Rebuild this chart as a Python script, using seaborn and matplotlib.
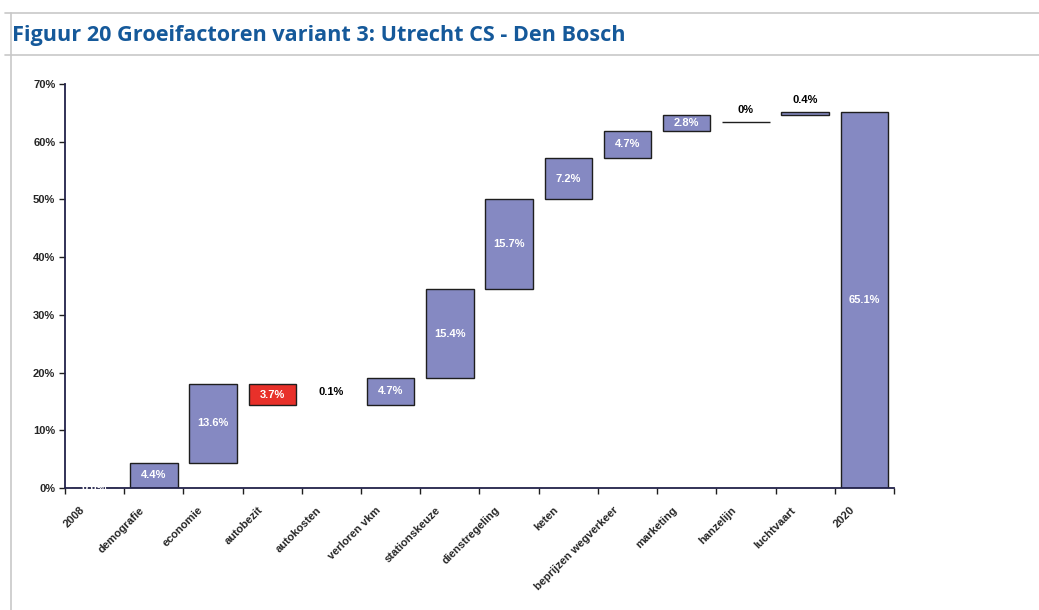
import numpy as np
import pandas as pd
import matplotlib
matplotlib.use("Agg")
import matplotlib.pyplot as plt
from matplotlib.ticker import FixedLocator
from matplotlib.transforms import ScaledTranslation
import seaborn as sns

# waterfall data (percent)
categories = ["2008", "demografie", "economie", "autobezit", "autokosten",
              "verloren vkm", "stationskeuze", "dienstregeling", "keten",
              "beprijzen wegverkeer", "marketing", "hanzelijn", "luchtvaart", "2020"]
values = [0.0, 4.4, 13.6, -3.7, 0.1, 4.7, 15.4, 15.7, 7.2, 4.7, 2.8, 0.0, 0.4, 65.1]
bottoms = [0.0, 0.0, 4.4, 18.0, 14.3, 14.4, 19.0, 34.4, 50.0, 57.2, 61.8, 63.4, 64.7, 0.0]
labels = ["0.0%", "4.4%", "13.6%", "3.7%", "0.1%", "4.7%", "15.4%", "15.7%",
          "7.2%", "4.7%", "2.8%", "0%", "0.4%", "65.1%"]

data = pd.DataFrame({"cat": categories, "val": values, "bottom": bottoms, "label": labels})

sns.set_style("white")
plt.rcParams["font.family"] = ["Liberation Sans", "DejaVu Sans"]

fig = plt.figure(figsize=(10.39, 6.10), dpi=100)
ax = fig.add_axes([0.0626, 0.2, 0.7978, 0.6623])

sns.barplot(data=data, x="cat", y="val", bottom=data["bottom"], color="#8589C2",
            saturation=1, width=0.8, edgecolor="#1e1e1e", linewidth=1.0, ax=ax)

for i, p in enumerate(ax.patches):
    if data["val"][i] < 0:
        p.set_facecolor("#E8302A")
    if data["cat"][i] == "autokosten":
        p.set_facecolor("none")
        p.set_edgecolor("none")

# data labels
for i, row in data.iterrows():
    if abs(row["val"]) < 1 and row["cat"] != "2008":
        top = row["bottom"] + row["val"]
        ax.annotate(row["label"], (i, top), xytext=(0, 9), textcoords="offset points",
                    ha="center", va="center", fontsize=8, fontweight="bold", color="black")
    else:
        mid = row["bottom"] + row["val"] / 2
        ax.text(i, mid, row["label"], ha="center", va="center", fontsize=8,
                fontweight="bold", color="white")

ax.set_ylim(0, 70)
ax.set_xlim(-0.5, len(categories) - 0.5)
ax.set_yticks(range(0, 71, 10))
ax.set_yticklabels([f"{t}%" for t in range(0, 71, 10)], fontsize=8, fontweight="bold")

# category labels, rotated like the excel original
ax.set_xticks(range(len(categories)))
ax.set_xticklabels([])
shift = ScaledTranslation(-15 / 100, -17 / 100, fig.dpi_scale_trans)
for i, c in enumerate(categories):
    ax.text(i, 0, c, transform=ax.get_xaxis_transform() + shift, rotation=45,
            rotation_mode="anchor", ha="right", va="top", fontsize=8, fontweight="bold")

ax.xaxis.set_minor_locator(FixedLocator(np.arange(-0.5, len(categories), 1.0)))
ax.tick_params(axis="x", which="major", length=0)
ax.tick_params(axis="x", which="minor", length=4, width=1, color="#1e1e1e", direction="out", bottom=True)
ax.tick_params(axis="y", length=4, width=1, color="#1e1e1e", direction="out", left=True, pad=3)
ax.set_xlabel("")
ax.set_ylabel("")
sns.despine(ax=ax)
for s in ["left", "bottom"]:
    ax.spines[s].set_color("#22224a")
    ax.spines[s].set_linewidth(1.3)

# frame and title
fig.add_artist(plt.Line2D([5 / 1039, 1], [1 - 12.5 / 610] * 2, color="#c8c8c8", lw=1.2))
fig.add_artist(plt.Line2D([5 / 1039, 1], [1 - 54.5 / 610] * 2, color="#c8c8c8", lw=1.2))
fig.add_artist(plt.Line2D([10.5 / 1039] * 2, [0, 1 - 12.5 / 610], color="#c8c8c8", lw=1.2))
fig.text(12 / 1039, 1 - 35 / 610, "Figuur 20 Groeifactoren variant 3: Utrecht CS - Den Bosch",
         fontsize=15.6, fontweight="bold", color="#15599A", family=["Open Sans", "DejaVu Sans"],
         ha="left", va="center")

fig.savefig("out.png", dpi=100)
